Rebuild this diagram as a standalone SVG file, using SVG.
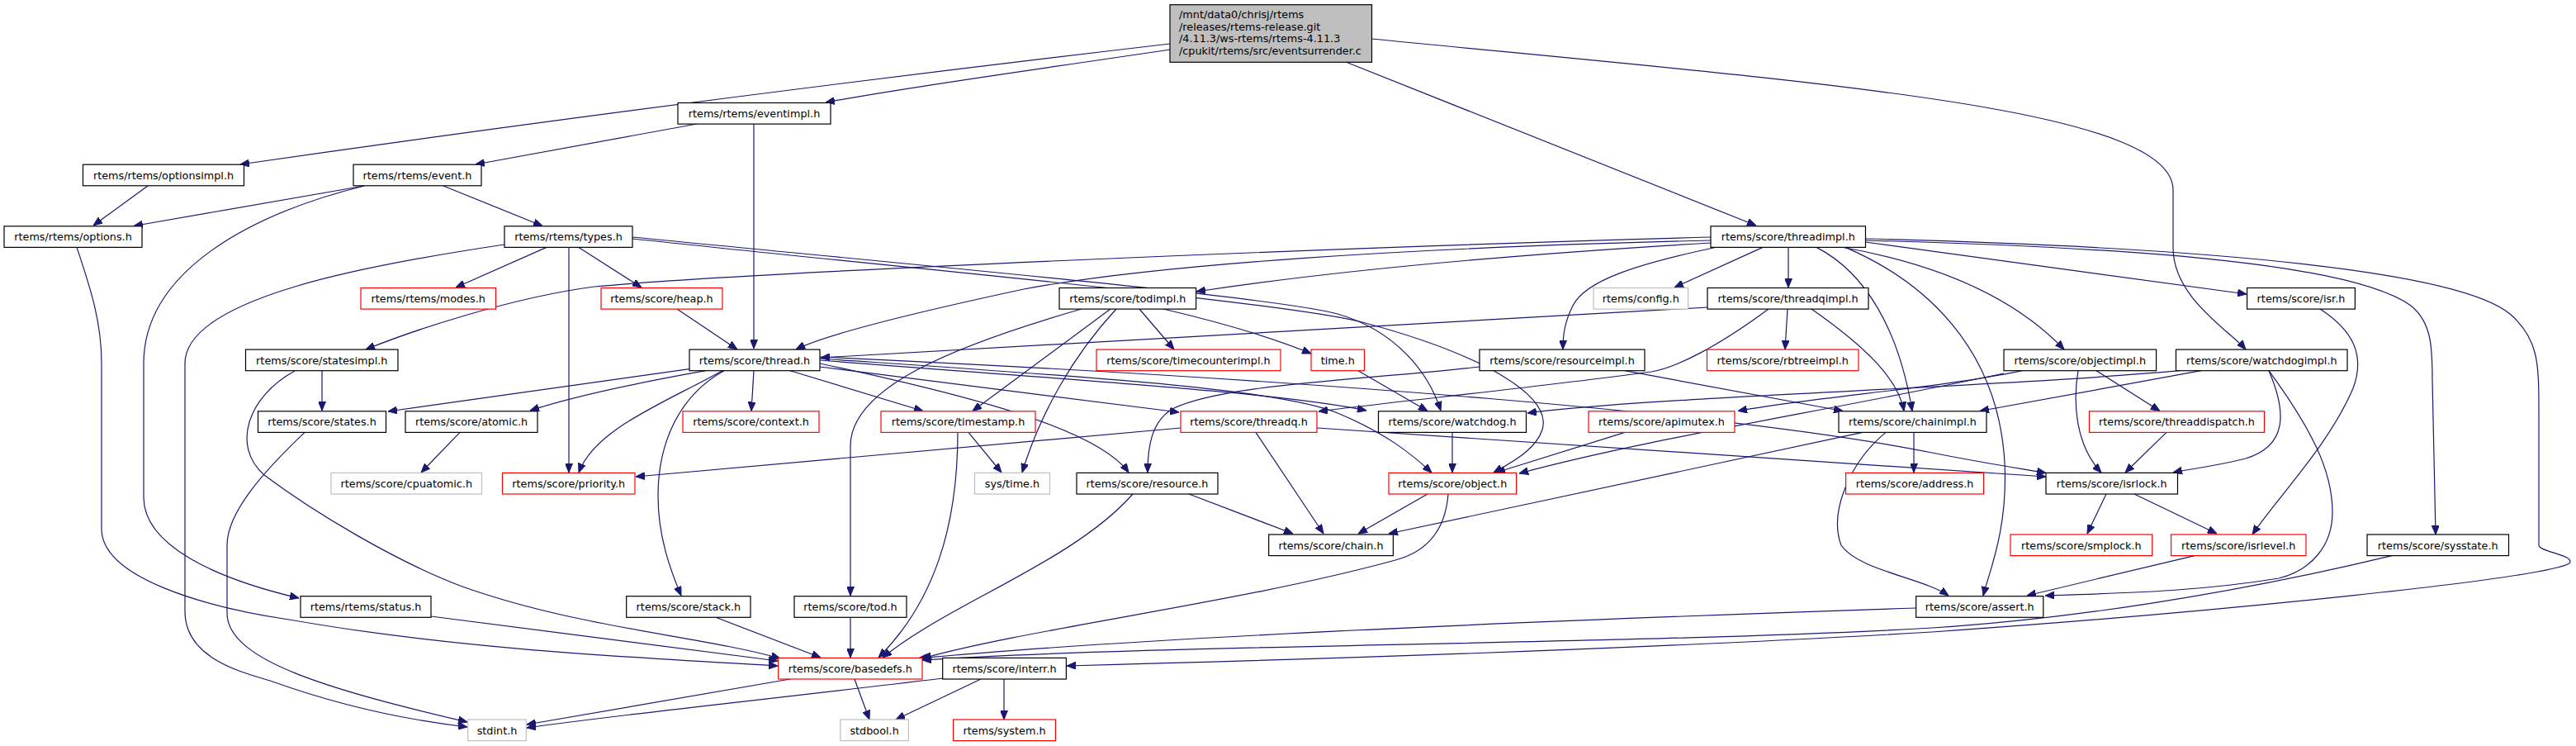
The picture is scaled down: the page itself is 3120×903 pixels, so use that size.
<svg xmlns="http://www.w3.org/2000/svg" width="3120" height="903" viewBox="0 0 3120 903">
<style>
rect{fill:#fff;stroke:#000;stroke-width:1.2}
.r rect{stroke:#ff0000}
.g rect{stroke:#bfbfbf}
.m rect{fill:#bfbfbf}
text{font-family:"DejaVu Sans","Liberation Sans",sans-serif;font-size:12.8px;fill:#000;text-anchor:middle}
.m text{text-anchor:start}
#edges path{fill:none;stroke:#191970;stroke-width:1.2;marker-end:url(#ah)}
</style>
<defs>
<marker id="ah" viewBox="0 0 11 9" refX="11" refY="4.5" markerWidth="11" markerHeight="9" orient="auto" markerUnits="userSpaceOnUse">
<path d="M0,0 L11,4.5 L0,9 z" fill="#191970" stroke="#191970" stroke-width="1"/>
</marker>
</defs>
<rect x="0" y="0" width="3120" height="903" style="fill:#fff;stroke:none"/>
<g id="edges">
<path d="M1417,53 C1100,90 700,140 291,199"/>
<path d="M1417,60 C1250,85 1100,105 1000,124"/>
<path d="M1630,75 L2127,273"/>
<path d="M1661,47 C2200,100 2632,130 2632,230 L2632,300 C2632,360 2700,400 2720,423"/>
<path d="M844,150 L576,199"/>
<path d="M913,150 L913,422"/>
<path d="M179,225 L113,273"/>
<path d="M441,225 L162,273.5"/>
<path d="M537,225 L657,273.5"/>
<path d="M441,225 C300,260 174,330 174,440 L174,602 C174,660 260,700 362,724"/>
<path d="M662,299.4 L552,348"/>
<path d="M689,299.4 L689,572"/>
<path d="M701,299.4 L777,348"/>
<path d="M611,296 C450,320 224,360 224,440 L224,740 C224,800 300,815 330,825 C400,850 480,870 566,880"/>
<path d="M766,287 C1100,320 1550,360 1620,380 C1690,400 1730,450 1745,497"/>
<path d="M766,289 C1100,325 1550,365 1650,390 C1800,430 1880,480 1868,520 C1860,545 1830,560 1809,572"/>
<path d="M820,374 L893,423"/>
<path d="M390,448.7 L390,497"/>
<path d="M357,449 C300,480 280,540 320,575 C380,620 480,680 560,710 C700,760 850,770 945,797"/>
<path d="M369,523.4 C320,570 275,620 275,660 L275,742 C275,800 400,835 566,874"/>
<path d="M557,523.4 L510,572"/>
<path d="M835,446.7 L470,498"/>
<path d="M855,448.7 C780,462 700,478 642,497"/>
<path d="M875,448.7 C800,490 720,520 701,572"/>
<path d="M877,448.7 C820,480 797,540 797,600 C797,650 812,690 825,721"/>
<path d="M913,448.7 L910,497.5"/>
<path d="M957,448.7 L1118,497.5"/>
<path d="M993,440 C1180,480 1330,520 1367,572"/>
<path d="M993,444 L1428,499"/>
<path d="M993,436 C1300,460 1550,475 1655,497"/>
<path d="M993,434 C1300,455 1550,470 1620,500 C1680,525 1710,550 1734,572"/>
<path d="M993,432 C1600,460 2100,500 2340,548 C2400,560 2440,566 2478,572.5"/>
<path d="M1430,518 L770,577"/>
<path d="M1521,523.4 L1603,646"/>
<path d="M1595,518 C1900,540 2200,560 2478,577"/>
<path d="M1310,374 C1150,420 1030,470 1030,540 L1030,721"/>
<path d="M1345,374 L1178,497.5"/>
<path d="M1352,374 C1300,430 1260,500 1238,572"/>
<path d="M1380,374 L1422,423"/>
<path d="M1409,374 Q1520,400 1588,428"/>
<path d="M1173,523.4 L1213,572"/>
<path d="M1160,523.4 C1160,640 1130,730 1064,796"/>
<path d="M1645,448.7 L1729,497.5"/>
<path d="M1759,523.4 L1759,572"/>
<path d="M1440,598 L1566,646"/>
<path d="M1372,598 C1300,680 1150,730 1069,796"/>
<path d="M1729,598 L1645,646"/>
<path d="M1754,598 C1750,650 1720,670 1690,678 C1500,730 1250,760 1117,797"/>
<path d="M1968,523.4 L1812,572"/>
<path d="M1792,444 C1650,460 1480,465 1420,495 C1395,510 1390,540 1390,572"/>
<path d="M1968,448.7 L2232,497.5"/>
<path d="M2068,372 C1600,400 1200,420 994,433"/>
<path d="M2165,374 L2162,423"/>
<path d="M2194,374 C2260,420 2300,460 2306,497.5"/>
<path d="M2142,374 C2080,420 2030,445 2000,450 C1850,470 1700,485 1597,498"/>
<path d="M2072,287 C1600,300 900,330 720,347 C620,360 500,400 443,423"/>
<path d="M2072,291 C1700,300 1400,320 1240,350 C1100,380 1000,405 964,423"/>
<path d="M2072,294 C1800,310 1600,330 1449,353"/>
<path d="M2135,299.4 L2028,348"/>
<path d="M2080,299 C1980,320 1920,340 1905,370 C1895,390 1893,405 1893,423"/>
<path d="M2166,299.4 L2166,348"/>
<path d="M2200,299.4 C2260,330 2300,400 2316,497.5"/>
<path d="M2230,299 C2350,320 2440,360 2500,423"/>
<path d="M2259,293 L2721,356"/>
<path d="M2235,299.4 C2330,340 2420,420 2428,560 C2432,640 2410,690 2402,721"/>
<path d="M2259,291 C2600,300 2850,320 2920,370 C2945,390 2946,420 2946,460 L2950,647"/>
<path d="M2259,289 C2700,300 2980,330 3040,380 C3075,410 3075,440 3075,500 L3075,660 C3075,668 3120,672 3112,682 C3080,700 2700,740 2340,765 C2000,785 1600,798 1292,806"/>
<path d="M2897,672.6 C2700,720 2500,750 2340,760 C2000,780 1400,780 1117,799"/>
<path d="M2321,736 C1900,750 1400,770 1112,797"/>
<path d="M2256,523.4 L1682,646"/>
<path d="M2318,523.4 L2318,572"/>
<path d="M2284,523.4 C2240,560 2215,620 2230,660 C2250,690 2330,700 2360,721"/>
<path d="M2449,448.7 C2350,470 2200,480 2105,497.5"/>
<path d="M2427,452 C2200,500 2000,530 1840,573"/>
<path d="M2539,448.7 L2616,497.5"/>
<path d="M2517,448.7 C2510,490 2515,540 2545,572"/>
<path d="M2640,448.7 C2400,470 2000,480 1850,500"/>
<path d="M2666,448.7 L2398,497.5"/>
<path d="M2748,448.7 C2770,500 2770,540 2720,555 C2680,565 2650,568 2632,572"/>
<path d="M2748,448.7 C2800,520 2825,570 2825,620 C2825,660 2800,690 2760,700 C2650,718 2550,718 2477,721"/>
<path d="M2624,523.4 L2574,572"/>
<path d="M2551,598 L2528,646"/>
<path d="M2585,598 L2685,646"/>
<path d="M2810,374 C2850,400 2865,430 2850,470 C2820,540 2760,600 2728,647"/>
<path d="M2658,672.6 L2455,721"/>
<path d="M522,746 L942,800"/>
<path d="M93,299.4 C110,350 123,390 123,440 L123,640 C123,700 250,735 350,750 C550,785 750,795 942,806"/>
<path d="M867,747.3 L994,796"/>
<path d="M1030,747.3 L1030,796"/>
<path d="M957,822 L638,877"/>
<path d="M1142,821 C900,850 750,865 638,881"/>
<path d="M1035,822 L1053,871"/>
<path d="M1188,822 L1085,871"/>
<path d="M1216,822 L1216,871"/>
</g>
<g id="node-main" class="m"><rect x="1417" y="5.7" width="244.5" height="69.6"/><text x="1428" y="22">/mnt/data0/chrisj/rtems</text><text x="1428" y="36.7">/releases/rtems-release.git</text><text x="1428" y="51.4">/4.11.3/ws-rtems/rtems-4.11.3</text><text x="1428" y="66.1">/cpukit/rtems/src/eventsurrender.c</text></g>
<g id="node-eventimpl"><rect x="821" y="124.5" width="185" height="25.6"/><text x="913.5" y="142">rtems/rtems/eventimpl.h</text></g>
<g id="node-optionsimpl"><rect x="100.5" y="199.2" width="195" height="25.6"/><text x="198" y="216.7">rtems/rtems/optionsimpl.h</text></g>
<g id="node-event"><rect x="428" y="199.2" width="155" height="25.6"/><text x="505.5" y="216.7">rtems/rtems/event.h</text></g>
<g id="node-options"><rect x="5" y="273.8" width="167" height="25.6"/><text x="88.5" y="291.3">rtems/rtems/options.h</text></g>
<g id="node-types"><rect x="611" y="273.8" width="155" height="25.6"/><text x="688.5" y="291.3">rtems/rtems/types.h</text></g>
<g id="node-threadimpl"><rect x="2072" y="273.8" width="187.5" height="25.6"/><text x="2165.75" y="291.3">rtems/score/threadimpl.h</text></g>
<g id="node-modes" class="r"><rect x="437" y="348.5" width="163.5" height="25.6"/><text x="518.75" y="366">rtems/rtems/modes.h</text></g>
<g id="node-heap" class="r"><rect x="728" y="348.5" width="147" height="25.6"/><text x="801.5" y="366">rtems/score/heap.h</text></g>
<g id="node-todimpl"><rect x="1283" y="348.5" width="165.6" height="25.6"/><text x="1365.8" y="366">rtems/score/todimpl.h</text></g>
<g id="node-config" class="g"><rect x="1930" y="348.5" width="114.6" height="25.6"/><text x="1987.3" y="366">rtems/config.h</text></g>
<g id="node-threadqimpl"><rect x="2068" y="348.5" width="195" height="25.6"/><text x="2165.5" y="366">rtems/score/threadqimpl.h</text></g>
<g id="node-isr"><rect x="2721.6" y="348.5" width="130.8" height="25.6"/><text x="2787" y="366">rtems/score/isr.h</text></g>
<g id="node-statesimpl"><rect x="297.5" y="423.1" width="184.5" height="25.6"/><text x="389.75" y="440.6">rtems/score/statesimpl.h</text></g>
<g id="node-thread"><rect x="835" y="423.1" width="158" height="25.6"/><text x="914" y="440.6">rtems/score/thread.h</text></g>
<g id="node-timecounterimpl" class="r"><rect x="1328" y="423.1" width="223" height="25.6"/><text x="1439.5" y="440.6">rtems/score/timecounterimpl.h</text></g>
<g id="node-time" class="r"><rect x="1588" y="423.1" width="64.5" height="25.6"/><text x="1620.25" y="440.6">time.h</text></g>
<g id="node-resourceimpl"><rect x="1792" y="423.1" width="200" height="25.6"/><text x="1892" y="440.6">rtems/score/resourceimpl.h</text></g>
<g id="node-rbtreeimpl" class="r"><rect x="2067.5" y="423.1" width="183.5" height="25.6"/><text x="2159.25" y="440.6">rtems/score/rbtreeimpl.h</text></g>
<g id="node-objectimpl"><rect x="2427" y="423.1" width="184.6" height="25.6"/><text x="2519.3" y="440.6">rtems/score/objectimpl.h</text></g>
<g id="node-watchdogimpl"><rect x="2635.5" y="423.1" width="207.5" height="25.6"/><text x="2739.25" y="440.6">rtems/score/watchdogimpl.h</text></g>
<g id="node-states"><rect x="312.5" y="497.8" width="155" height="25.6"/><text x="390" y="515.3">rtems/score/states.h</text></g>
<g id="node-atomic"><rect x="491" y="497.8" width="160" height="25.6"/><text x="571" y="515.3">rtems/score/atomic.h</text></g>
<g id="node-context" class="r"><rect x="827" y="497.8" width="165" height="25.6"/><text x="909.5" y="515.3">rtems/score/context.h</text></g>
<g id="node-timestamp" class="r"><rect x="1067" y="497.8" width="187" height="25.6"/><text x="1160.5" y="515.3">rtems/score/timestamp.h</text></g>
<g id="node-threadq" class="r"><rect x="1430" y="497.8" width="165" height="25.6"/><text x="1512.5" y="515.3">rtems/score/threadq.h</text></g>
<g id="node-watchdog"><rect x="1669.5" y="497.8" width="179" height="25.6"/><text x="1759" y="515.3">rtems/score/watchdog.h</text></g>
<g id="node-apimutex" class="r"><rect x="1924" y="497.8" width="177" height="25.6"/><text x="2012.5" y="515.3">rtems/score/apimutex.h</text></g>
<g id="node-chainimpl"><rect x="2227" y="497.8" width="179" height="25.6"/><text x="2316.5" y="515.3">rtems/score/chainimpl.h</text></g>
<g id="node-threaddispatch" class="r"><rect x="2530.5" y="497.8" width="212" height="25.6"/><text x="2636.5" y="515.3">rtems/score/threaddispatch.h</text></g>
<g id="node-cpuatomic" class="g"><rect x="401" y="572.4" width="182.5" height="25.6"/><text x="492.25" y="589.9">rtems/score/cpuatomic.h</text></g>
<g id="node-priority" class="r"><rect x="608.5" y="572.4" width="160.5" height="25.6"/><text x="688.75" y="589.9">rtems/score/priority.h</text></g>
<g id="node-systime" class="g"><rect x="1180.5" y="572.4" width="91" height="25.6"/><text x="1226" y="589.9">sys/time.h</text></g>
<g id="node-resource"><rect x="1304" y="572.4" width="171" height="25.6"/><text x="1389.5" y="589.9">rtems/score/resource.h</text></g>
<g id="node-object" class="r"><rect x="1682" y="572.4" width="154.6" height="25.6"/><text x="1759.3" y="589.9">rtems/score/object.h</text></g>
<g id="node-address" class="r"><rect x="2235.6" y="572.4" width="167" height="25.6"/><text x="2319.1" y="589.9">rtems/score/address.h</text></g>
<g id="node-isrlock"><rect x="2478" y="572.4" width="159.5" height="25.6"/><text x="2557.75" y="589.9">rtems/score/isrlock.h</text></g>
<g id="node-chain"><rect x="1536.7" y="647" width="150.7" height="25.6"/><text x="1612" y="664.5">rtems/score/chain.h</text></g>
<g id="node-smplock" class="r"><rect x="2435" y="647" width="171.7" height="25.6"/><text x="2520.85" y="664.5">rtems/score/smplock.h</text></g>
<g id="node-isrlevel" class="r"><rect x="2629.6" y="647" width="163.4" height="25.6"/><text x="2711.3" y="664.5">rtems/score/isrlevel.h</text></g>
<g id="node-sysstate"><rect x="2867" y="647" width="171.5" height="25.6"/><text x="2952.75" y="664.5">rtems/score/sysstate.h</text></g>
<g id="node-status"><rect x="364" y="721.7" width="158" height="25.6"/><text x="443" y="739.2">rtems/rtems/status.h</text></g>
<g id="node-stack"><rect x="758.7" y="721.7" width="150.3" height="25.6"/><text x="833.85" y="739.2">rtems/score/stack.h</text></g>
<g id="node-tod"><rect x="962" y="721.7" width="136" height="25.6"/><text x="1030" y="739.2">rtems/score/tod.h</text></g>
<g id="node-assert"><rect x="2320.7" y="721.7" width="154.1" height="25.6"/><text x="2397.75" y="739.2">rtems/score/assert.h</text></g>
<g id="node-basedefs" class="r"><rect x="942.7" y="796.4" width="174.3" height="25.6"/><text x="1029.85" y="813.9">rtems/score/basedefs.h</text></g>
<g id="node-interr"><rect x="1141.7" y="796.4" width="149.7" height="25.6"/><text x="1216.55" y="813.9">rtems/score/interr.h</text></g>
<g id="node-stdint" class="g"><rect x="566.7" y="871" width="70.6" height="25.6"/><text x="602" y="888.5">stdint.h</text></g>
<g id="node-stdbool" class="g"><rect x="1017.8" y="871" width="82.6" height="25.6"/><text x="1059.1" y="888.5">stdbool.h</text></g>
<g id="node-system" class="r"><rect x="1154.6" y="871" width="123.9" height="25.6"/><text x="1216.55" y="888.5">rtems/system.h</text></g>
</svg>
